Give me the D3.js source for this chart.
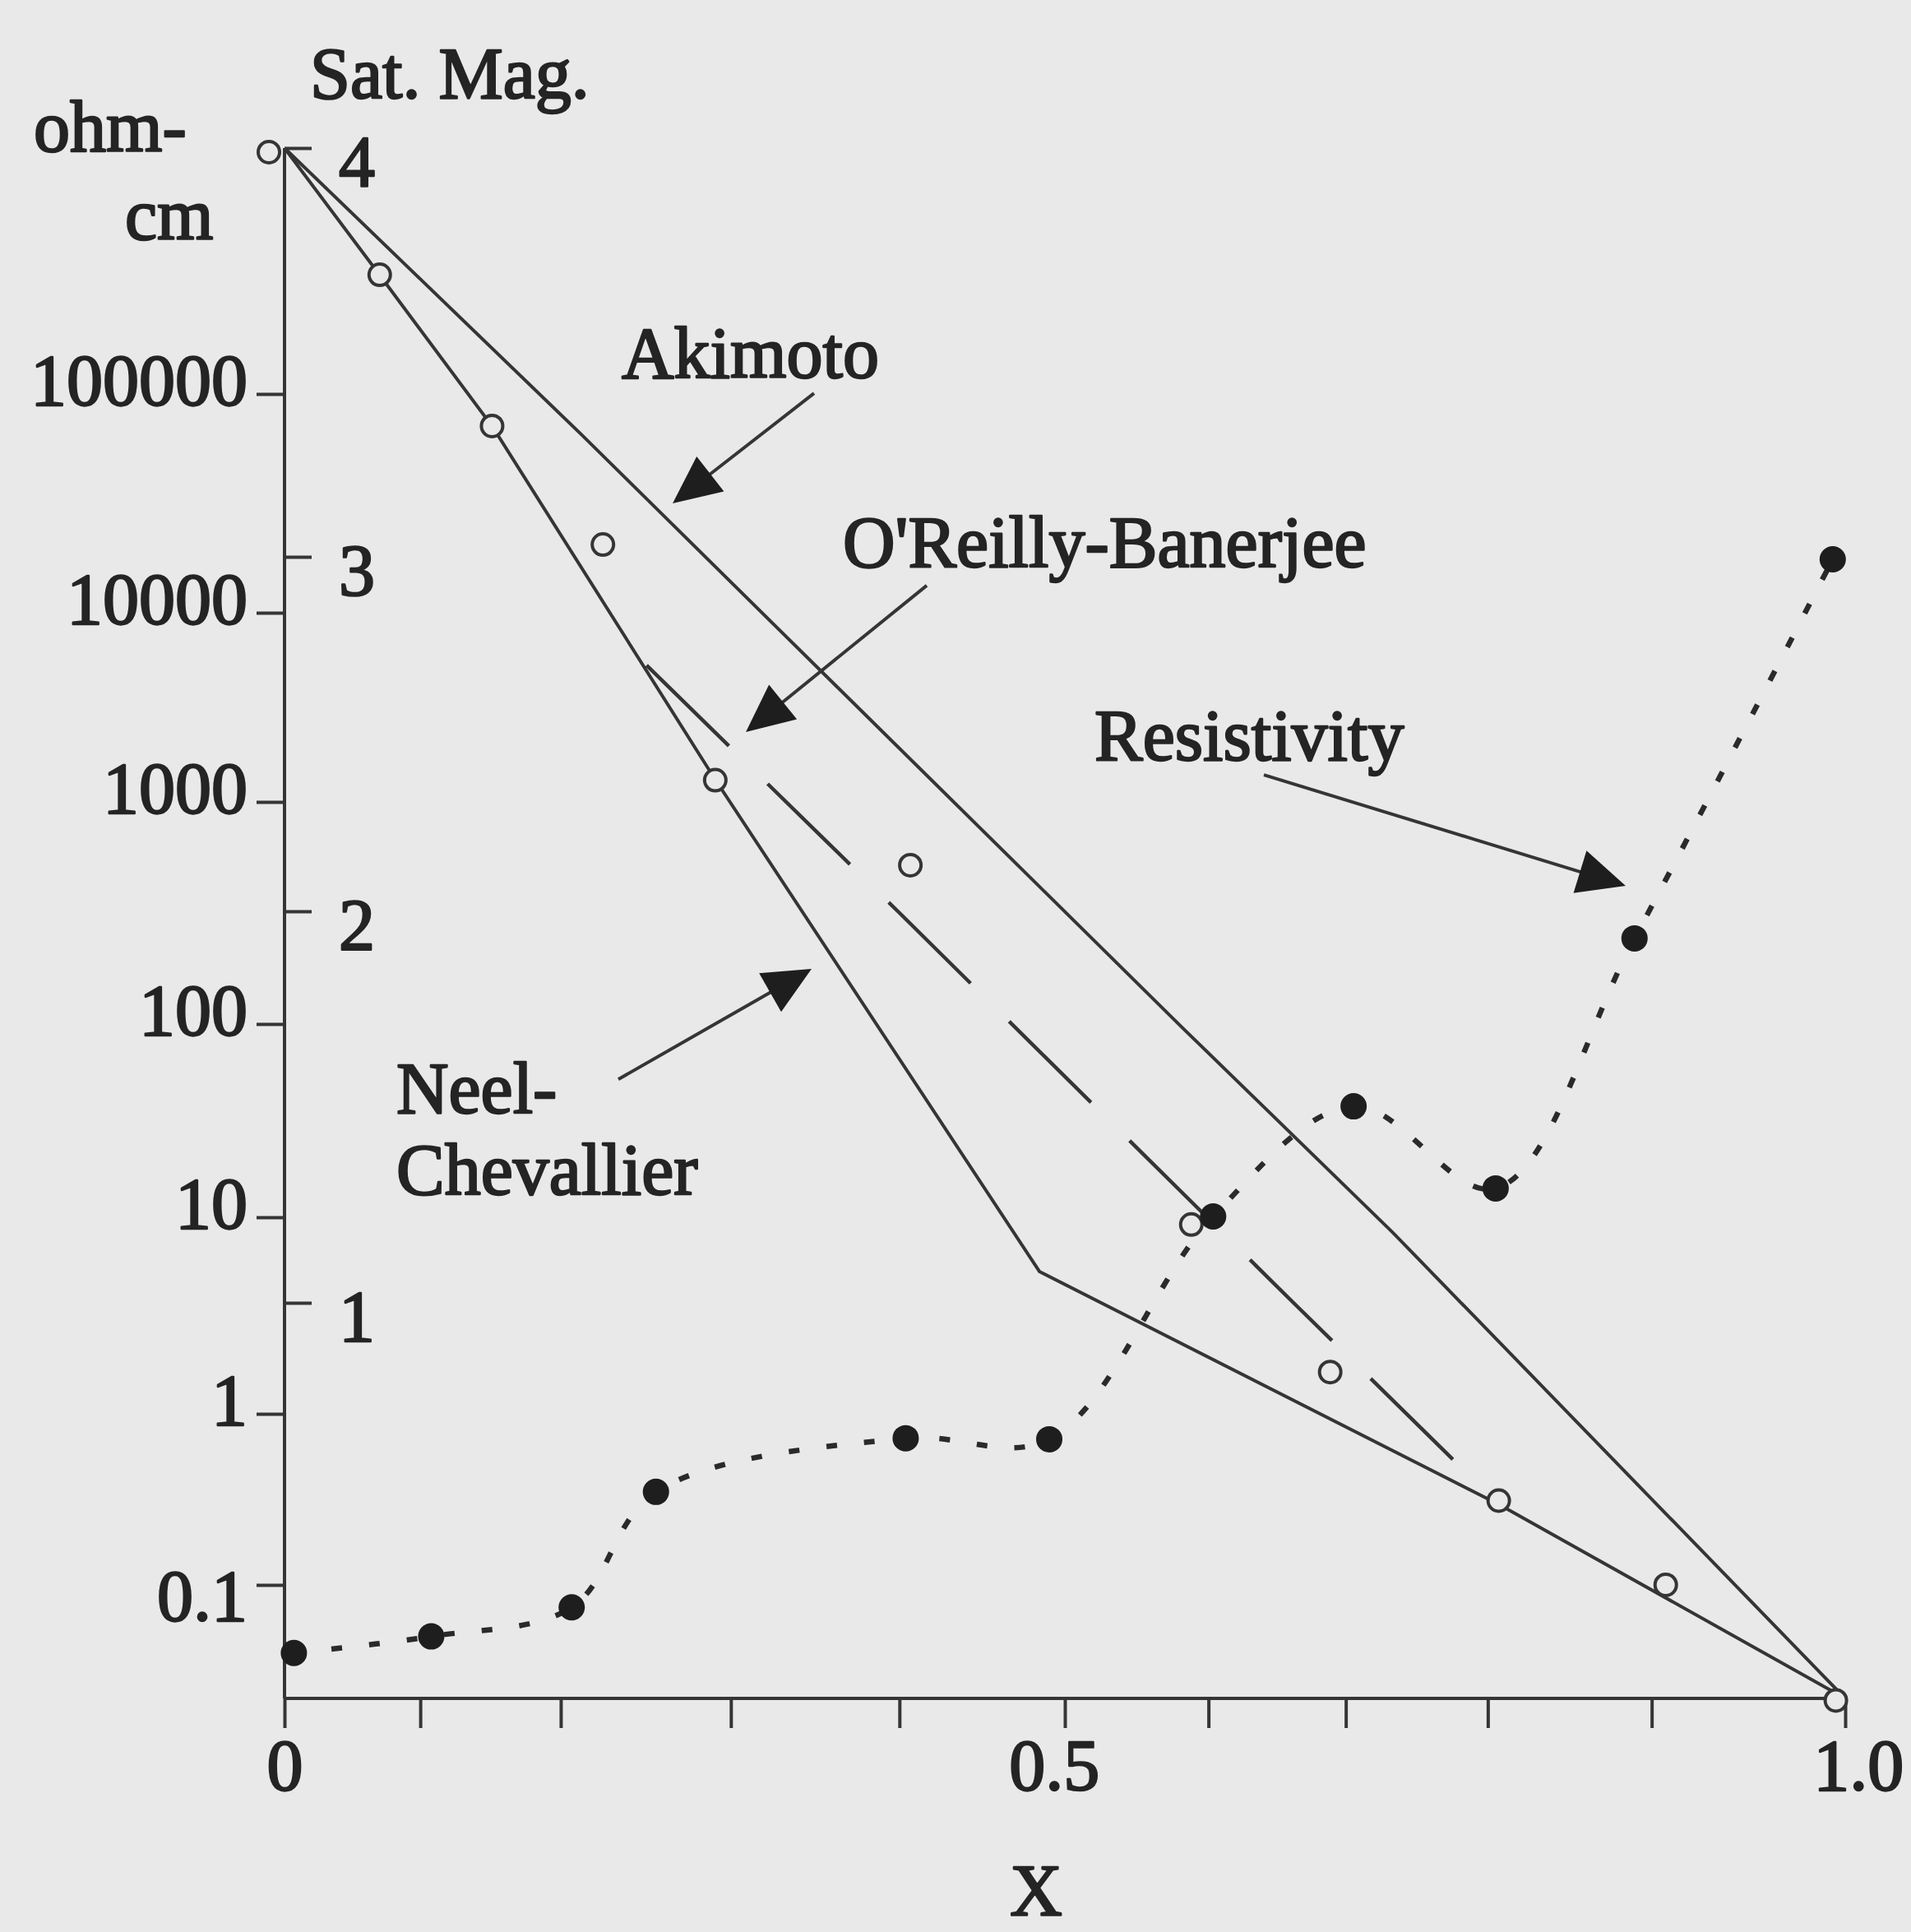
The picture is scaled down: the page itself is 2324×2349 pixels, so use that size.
<!DOCTYPE html>
<html>
<head>
<meta charset="utf-8">
<script src="https://cdn.jsdelivr.net/npm/d3@7"></script>
<style>
  html, body { margin: 0; padding: 0; background: #e9e9e9; }
  svg { display: block; }
</style>
</head>
<body>
<svg id="chart"></svg>
<script>
// ---- data ---------------------------------------------------------------

// x axis: ticks sit at the sample compositions, only three are labelled
const xTickValues = [0, 0.087, 0.177, 0.286, 0.394, 0.5, 0.592, 0.68, 0.771, 0.876, 1.0];
const xTickLabels = ['0', '', '', '', '', '0.5', '', '', '', '', '1.0'];

// left axis (resistivity, ohm-cm, log)
const resTickValues = [0.1, 1, 10, 100, 1000, 10000, 100000];
const resTickLabels = ['0.1', '1', '10', '100', '1000', '10000', '100000'];

// right axis (saturation magnetisation)
const magTickValues = [1, 2, 3, 4];

// measured saturation magnetisation (open circles)
const magX = [-0.01, 0.061, 0.133, 0.204, 0.276, 0.401, 0.581, 0.670, 0.778, 0.885, 0.994];
const magY = [3.99, 3.69, 3.32, 3.03, 2.37, 2.13, 1.20, 0.825, 0.50, 0.287, -0.005];

// resistivity (filled dots, dotted curve)
const resX = [0.006, 0.094, 0.184, 0.238, 0.398, 0.490, 0.595, 0.685, 0.776, 0.865, 0.992];
const resY = [0.040, 0.050, 0.074, 0.35, 0.72, 0.71, 10.1, 37.5, 14.1, 243, 17550];

// model curves (sat. mag. units)
const akimotoX = [0, 0.19, 0.576, 0.71, 1];
const akimotoY = [4, 3.30, 1.70, 1.18, 0];
const neelX = [0, 0.0616, 0.1333, 0.2756, 0.4837, 0.7787, 1];
const neelY = [4, 3.686, 3.318, 2.374, 1.080, 0.489, 0];
const oreillyX = [0.232, 0.393, 0.6465, 0.750];
const oreillyY = [2.694, 2.0, 1.0, 0.599];

// annotations: label text + arrow from/to in (x, sat. mag.) units
const annoText = ['Akimoto', "O'Reilly-Banerjee", 'Resistivity', 'Neel-', 'Chevallier'];
const arrowFrom = [[0.3393, 3.400], [0.4115, 2.919], [0.6275, 2.385], [0.2139, 1.571]];
const arrowTo   = [[0.2487, 3.131], [0.2956, 2.506], [0.8593, 2.072], [0.3377, 1.853]];

// ---- layout ---------------------------------------------------------------
const W = 2324, H = 2349;
const INK = '#353535';
const FONT = '"Liberation Serif", "Times New Roman", serif';
const FS = 88;

// the original axes were drawn by hand, so the decades / units are not evenly
// spaced; piecewise scales reproduce the tick positions of the figure
const x = d3.scaleLinear().domain([0, 1]).range([346, 2244]);
const yRes = d3.scaleLog()
  .domain([0.1, 1, 10, 100, 1000, 10000, 100000])
  .range([1927, 1719, 1480, 1245, 975, 745, 479]);
const yMag = d3.scaleLinear()
  .domain([0, 1, 2, 3, 4])
  .range([2065, 1584, 1108, 677, 180]);

const labelPos = [[756, 459], [1025, 689], [1331, 924], [482, 1353], [482, 1452]];

const svg = d3.select('#chart').attr('width', W).attr('height', H);
svg.append('rect').attr('width', W).attr('height', H).attr('fill', '#e9e9e9');

function styleText(sel) {
  sel.attr('font-family', FONT).attr('font-size', FS)
    .attr('fill', '#242424').attr('stroke', '#242424').attr('stroke-width', 2.4)
    .attr('stroke-linejoin', 'round');
}

// ---- axes -----------------------------------------------------------------
const xAxis = svg.append('g')
  .attr('transform', `translate(0,${yMag(0)})`)
  .call(d3.axisBottom(x).tickValues(xTickValues)
    .tickFormat((d, i) => xTickLabels[i]).tickSize(36).tickPadding(13));
xAxis.select('.domain').attr('d', `M${x(0)},0H${x(1)}`);

const yAxisL = svg.append('g')
  .attr('transform', `translate(${x(0)},0)`)
  .call(d3.axisLeft(yRes).tickValues(resTickValues)
    .tickFormat((d, i) => resTickLabels[i]).tickSize(34).tickPadding(11));
yAxisL.select('.domain').attr('d', `M0,${yMag(4)}V${yMag(0)}`);

const yAxisR = svg.append('g')
  .attr('transform', `translate(${x(0)},0)`)
  .call(d3.axisRight(yMag).tickValues(magTickValues).tickFormat(d3.format('d'))
    .tickSize(33).tickPadding(33));
yAxisR.select('.domain').remove();

for (const ax of [xAxis, yAxisL, yAxisR]) {
  ax.selectAll('.domain').attr('stroke', INK).attr('stroke-width', 4);
  ax.selectAll('.tick line').attr('stroke', INK).attr('stroke-width', 4);
  styleText(ax.selectAll('.tick text'));
}
yAxisL.selectAll('.tick text').attr('dy', '0.14em');
yAxisL.selectAll('.tick text').filter(d => d === 0.1).attr('dy', '0.48em');
yAxisR.selectAll('.tick text').attr('dy', '0.52em');
xAxis.selectAll('.tick text').filter(d => d === 1).attr('dx', '0.18em');
xAxis.selectAll('.tick text').filter(d => d === 0.5).attr('dx', '-0.15em');

// axis titles
styleText(svg.append('text').attr('x', 377).attr('y', 119).text('Sat. Mag.'));
styleText(svg.append('text').attr('x', 41).attr('y', 184).text('ohm-'));
styleText(svg.append('text').attr('x', 152).attr('y', 291).text('cm'));
styleText(svg.append('text').attr('x', 1260).attr('y', 2328)
  .attr('text-anchor', 'middle').text('X'));

// ---- model curves ----------------------------------------------------------
const magLine = d3.line().x(d => x(d[0])).y(d => yMag(d[1]));
const zip = (a, b) => a.map((v, i) => [v, b[i]]);

svg.append('path').datum(zip(akimotoX, akimotoY))
  .attr('d', magLine).attr('fill', 'none')
  .attr('stroke', INK).attr('stroke-width', 4);

svg.append('path').datum(zip(neelX, neelY))
  .attr('d', magLine).attr('fill', 'none')
  .attr('stroke', INK).attr('stroke-width', 4);

svg.append('path').datum(zip(oreillyX, oreillyY))
  .attr('d', magLine).attr('fill', 'none')
  .attr('stroke', INK).attr('stroke-width', 4.5)
  .attr('stroke-dasharray', '140,66');

// ---- resistivity -----------------------------------------------------------
const resLine = d3.line()
  .x(d => x(d[0])).y(d => yRes(d[1]))
  .curve(d3.curveCatmullRom.alpha(0.5));

svg.append('path').datum(zip(resX, resY))
  .attr('d', resLine).attr('fill', 'none')
  .attr('stroke', '#2a2a2a').attr('stroke-width', 6.5)
  .attr('stroke-dasharray', '13,33');

// open circles: measured saturation magnetisation
svg.append('g').selectAll('circle')
  .data(zip(magX, magY))
  .join('circle')
  .attr('cx', d => x(d[0])).attr('cy', d => yMag(d[1]))
  .attr('r', 13)
  .attr('fill', '#e9e9e9').attr('stroke', INK).attr('stroke-width', 4);

// filled dots: resistivity
svg.append('g').selectAll('circle')
  .data(zip(resX, resY))
  .join('circle')
  .attr('cx', d => x(d[0])).attr('cy', d => yRes(d[1]))
  .attr('r', 16)
  .attr('fill', '#1e1e1e');

// ---- annotations -----------------------------------------------------------
const HEAD_LEN = 58, HEAD_HALF = 27;
arrowFrom.forEach((from, i) => {
  const to = arrowTo[i];
  const x0 = x(from[0]), y0 = yMag(from[1]);
  const x1 = x(to[0]), y1 = yMag(to[1]);
  const len = Math.hypot(x1 - x0, y1 - y0);
  const ux = (x1 - x0) / len, uy = (y1 - y0) / len;
  const bx = x1 - ux * HEAD_LEN, by = y1 - uy * HEAD_LEN;
  svg.append('line')
    .attr('x1', x0).attr('y1', y0)
    .attr('x2', bx + ux * 4).attr('y2', by + uy * 4)
    .attr('stroke', INK).attr('stroke-width', 4);
  svg.append('polygon')
    .attr('points', [
      [x1, y1],
      [bx - uy * HEAD_HALF, by + ux * HEAD_HALF],
      [bx + uy * HEAD_HALF, by - ux * HEAD_HALF]
    ].map(p => p.join(',')).join(' '))
    .attr('fill', '#1e1e1e');
});

annoText.forEach((t, i) => {
  styleText(svg.append('text')
    .attr('x', labelPos[i][0]).attr('y', labelPos[i][1]).text(t));
});
</script>
</body>
</html>
